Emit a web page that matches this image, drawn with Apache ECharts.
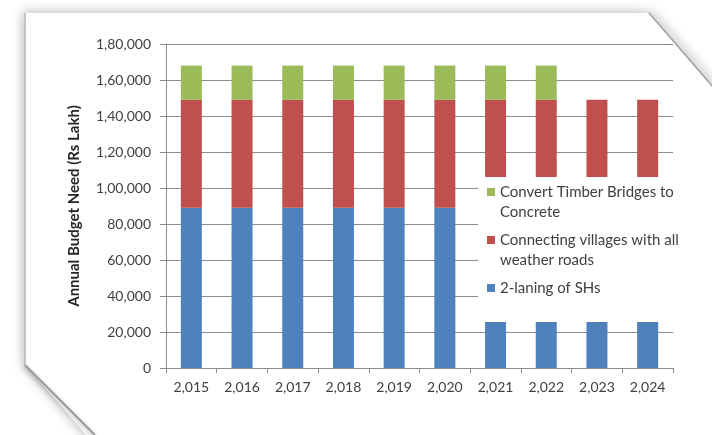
<!DOCTYPE html>
<html>
<head>
<meta charset="utf-8">
<script src="https://cdn.jsdelivr.net/npm/echarts@6/dist/echarts.min.js"></script>
<style>
html,body{margin:0;padding:0;background:#fff;}
#chart{width:712px;height:435px;}
</style>
</head>
<body>
<div id="chart"></div>
<script>
// ---- data ----
const categories = ['2,015','2,016','2,017','2,018','2,019','2,020','2,021','2,022','2,023','2,024'];
const laningSHs = [89000, 89000, 89000, 89000, 89000, 89000, 26000, 26000, 26000, 26000];
const connectingVillages = [60000, 60000, 60000, 60000, 60000, 60000, 123000, 123000, 123000, 123000];
const timberBridges = [19000, 19000, 19000, 19000, 19000, 19000, 19000, 19000, null, null];
const seriesNames = ['2-laning of SHs', 'Connecting villages with all weather roads', 'Convert Timber Bridges to Concrete'];
const legendLabels = {
  '2-laning of SHs': '2-laning of SHs\n ',
  'Connecting villages with all weather roads': 'Connecting villages with all\nweather roads',
  'Convert Timber Bridges to Concrete': 'Convert Timber Bridges to\nConcrete'
};
const yAxisTitle = 'Annual Budget Need (Rs Lakh)';

function indianFormat(v) {
  const s = String(Math.round(v));
  if (s.length <= 3) return s;
  const last3 = s.slice(-3);
  let rest = s.slice(0, -3);
  const parts = [];
  while (rest.length > 2) { parts.unshift(rest.slice(-2)); rest = rest.slice(0, -2); }
  if (rest.length) parts.unshift(rest);
  return parts.join(',') + ',' + last3;
}

const FONT = 'Lato';
const TXT = '#404040';
const GRID = '#8c8c8c';
const iconPath = 'path://M0,6h8v8h-8z M0,0h0.01v0.01h-0.01z M0,40h0.01v0.01h-0.01z';

const chart = echarts.init(document.getElementById('chart'), null, {renderer: 'canvas'});
chart.setOption({
  backgroundColor: '#fff',
  animation: false,
  textStyle: {fontFamily: FONT},
  graphic: [
    {
      type: 'line', z: -11, silent: true,
      shape: {x1: 648, y1: 13, x2: 714, y2: 89},
      style: {stroke: 'rgba(120,120,120,0.5)', lineWidth: 3, shadowBlur: 10, shadowColor: 'rgba(0,0,0,0.45)', shadowOffsetX: 4, shadowOffsetY: -2}
    },
    {
      type: 'polygon', z: -10, silent: true,
      shape: {points: [[25,13],[648,13],[712,87],[712,445],[95,445],[25,365]]},
      style: {fill: '#fff', shadowBlur: 12, shadowColor: 'rgba(0,0,0,0.28)', shadowOffsetX: -2, shadowOffsetY: -1}
    },
    {
      type: 'line', z: -9, silent: true,
      shape: {x1: 25, y1: 13, x2: 25, y2: 365},
      style: {stroke: '#b8b8b8', lineWidth: 1.5}
    },
    {
      type: 'line', z: -9, silent: true,
      shape: {x1: 25, y1: 365, x2: 95, y2: 435},
      style: {stroke: '#9a9a9a', lineWidth: 2, shadowBlur: 4, shadowColor: 'rgba(0,0,0,0.35)', shadowOffsetX: -1, shadowOffsetY: 1}
    }
  ],
  grid: {left: 166, right: 39, top: 44, bottom: 67, containLabel: false},
  legend: {
    orient: 'vertical',
    left: 478, top: 177,
    padding: [5, 20, 4, 9],
    backgroundColor: '#fff',
    itemWidth: 8, itemHeight: 40, itemGap: 8,
    icon: iconPath,
    data: [seriesNames[2], seriesNames[1], seriesNames[0]],
    formatter: name => legendLabels[name],
    textStyle: {fontFamily: FONT, fontSize: 15, lineHeight: 20, color: TXT},
    selectedMode: false
  },
  xAxis: {
    type: 'category',
    data: categories,
    axisLine: {lineStyle: {color: GRID, width: 1}},
    axisTick: {show: true, alignWithLabel: false, length: 5, lineStyle: {color: GRID}},
    axisLabel: {color: TXT, fontSize: 14, fontFamily: FONT, margin: 12}
  },
  yAxis: {
    type: 'value',
    min: 0, max: 180000, interval: 20000,
    name: yAxisTitle,
    nameLocation: 'middle',
    nameRotate: 90,
    nameGap: 84,
    nameTextStyle: {fontFamily: FONT, fontSize: 15, fontWeight: 'bold', color: '#262626'},
    axisLine: {show: true, lineStyle: {color: GRID, width: 1}},
    axisTick: {show: true, length: 6, lineStyle: {color: GRID}},
    splitLine: {lineStyle: {color: GRID, width: 1}},
    axisLabel: {color: TXT, fontSize: 14, fontFamily: FONT, margin: 15, formatter: v => indianFormat(v)}
  },
  series: [
    {name: seriesNames[0], type: 'bar', stack: 'total', barWidth: 21, data: laningSHs, itemStyle: {color: '#4F81BD'}},
    {name: seriesNames[1], type: 'bar', stack: 'total', barWidth: 21, data: connectingVillages, itemStyle: {color: '#C0504D'}},
    {name: seriesNames[2], type: 'bar', stack: 'total', barWidth: 21, data: timberBridges, itemStyle: {color: '#9BBB59'}}
  ]
});
</script>
</body>
</html>
